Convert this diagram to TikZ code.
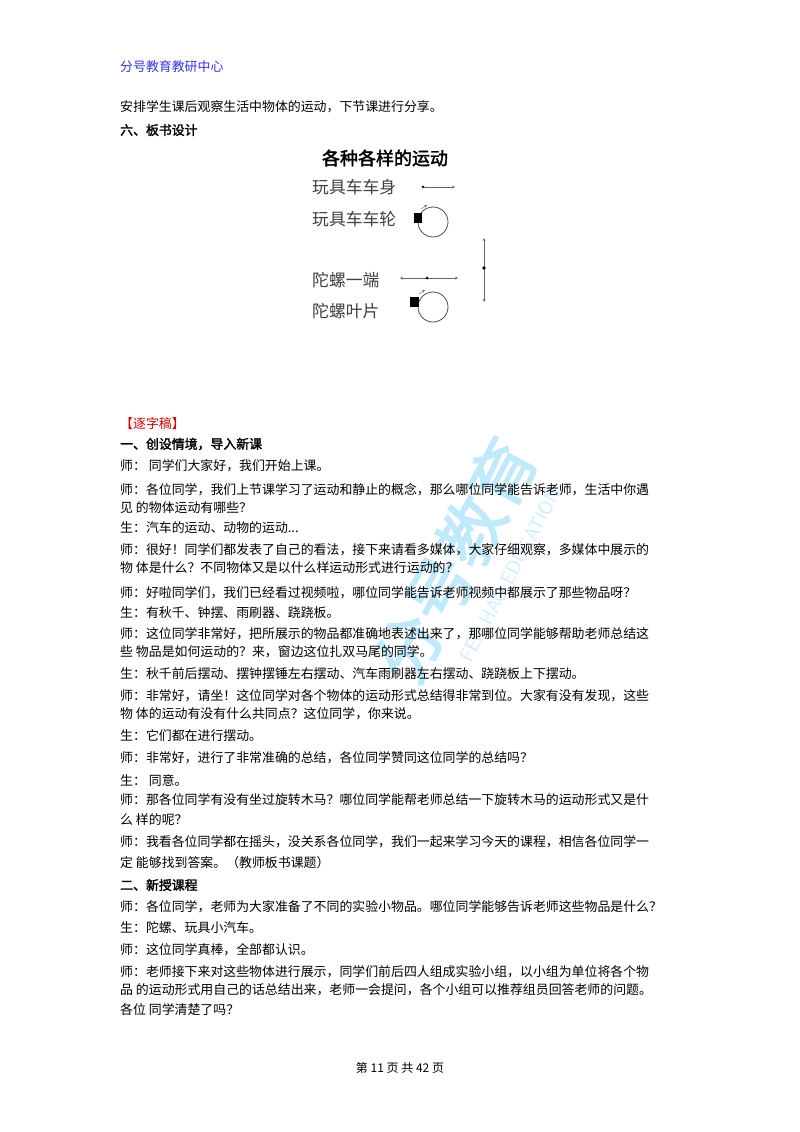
\documentclass[tikz,border=0pt]{standalone}
\usepackage{fontspec}
\setmainfont{Noto Sans CJK SC}
\newfontfamily\cjk{Noto Sans CJK SC}
\newfontfamily\cjkb[FakeBold=2]{Noto Sans CJK SC}
\begin{document}
\begin{tikzpicture}[x=1pt,y=-1pt,
 tl/.style={anchor=west,inner sep=0,font=\fontsize{12.9}{14}\selectfont\cjk},
 hb/.style={anchor=west,inner sep=0,font=\fontsize{12.9}{14}\selectfont\cjkb},
 dg/.style={anchor=west,inner sep=0,font=\fontsize{16.8}{18}\selectfont\cjk,text=black!75},
 ar/.style={->,>=stealth,thin,black!60}]
\useasboundingbox[fill=white] (0,0) rectangle (800,1132);
% watermark
\node[rotate=62,text=cyan!25,font=\fontsize{66}{66}\selectfont\cjkb] (wm) at (455,560) {分号教育};
\node[rotate=62,text=cyan!20,font=\fontsize{20}{20}\selectfont\sffamily] (wm2) at (510,575) {FEN HAO EDUCATION};
\node[tl,text=blue!80] (h) at (120,67) {分号教育教研中心};
\node[tl] (l0) at (120,107) {安排学生课后观察生活中物体的运动，下节课进行分享。};
\node[hb] (l1) at (120,130) {六、板书设计};
% board
\node[anchor=center,inner sep=0,font=\fontsize{18}{19}\selectfont\cjkb] (bt) at (385,158) {各种各样的运动};
\node[dg] (b1) at (312,187) {玩具车车身};
\node[dg] (b2) at (312,219) {玩具车车轮};
\node[dg] (b3) at (312,280) {陀螺一端};
\node[dg] (b4) at (312,311) {陀螺叶片};
\coordinate (d1) at (423,187); \coordinate (e1) at (455,187);
\fill (d1) circle (1.5); \draw[ar] (d1) -- (e1);
\draw[black!70,thick] (433,222) circle (15);
\fill (414,213) rectangle (422,223);
\draw[ar] (421,209) -- (427,205);
\coordinate (v1) at (484,238); \coordinate (v2) at (484,302); \coordinate (vm) at (484,268);
\draw[black!60,<->,>=stealth,thin] (v1) -- (v2); \fill (vm) circle (1.8);
\coordinate (d3) at (427,278); \coordinate (a3) at (400,278); \coordinate (c3) at (458,278);
\draw[ar] (d3) -- (a3); \draw[ar] (d3) -- (c3); \fill (d3) circle (1.5);
\draw[black!70,thick] (433,307) circle (15);
\fill (410,297) rectangle (419,307);
\draw[ar] (419,294) -- (425,290);
% text
\node[tl,text=red!85!black] (r) at (120,424) {【逐字稿】};
\node[hb] (s1) at (120,444) {一、创设情境，导入新课};
\foreach \y/\t in {466/{师：\ 同学们大家好，我们开始上课。},
490/{师：各位同学，我们上节课学习了运动和静止的概念，那么哪位同学能告诉老师，生活中你遇},
508/{见\ 的物体运动有哪些？},
528/{生：汽车的运动、动物的运动...},
550/{师：很好！同学们都发表了自己的看法，接下来请看多媒体，大家仔细观察，多媒体中展示的},
568/{物\ 体是什么？不同物体又是以什么样运动形式进行运动的？},
593/{师：好啦同学们，我们已经看过视频啦，哪位同学能告诉老师视频中都展示了那些物品呀？},
613/{生：有秋千、钟摆、雨刷器、跷跷板。},
634/{师：这位同学非常好，把所展示的物品都准确地表述出来了，那哪位同学能够帮助老师总结这},
652/{些\ 物品是如何运动的？来，窗边这位扎双马尾的同学。},
674/{生：秋千前后摆动、摆钟摆锤左右摆动、汽车雨刷器左右摆动、跷跷板上下摆动。},
696/{师：非常好，请坐！这位同学对各个物体的运动形式总结得非常到位。大家有没有发现，这些},
714/{物\ 体的运动有没有什么共同点？这位同学，你来说。},
736/{生：它们都在进行摆动。},
758/{师：非常好，进行了非常准确的总结，各位同学赞同这位同学的总结吗？},
781/{生：\ 同意。},
800/{师：那各位同学有没有坐过旋转木马？哪位同学能帮老师总结一下旋转木马的运动形式又是什},
820/{么\ 样的呢？},
842/{师：我看各位同学都在摇头，没关系各位同学，我们一起来学习今天的课程，相信各位同学一},
863/{定\ 能够找到答案。（教师板书课题）},
907/{师：各位同学，老师为大家准备了不同的实验小物品。哪位同学能够告诉老师这些物品是什么？},
928/{生：陀螺、玩具小汽车。},
950/{师：这位同学真棒，全部都认识。},
972/{师：老师接下来对这些物体进行展示，同学们前后四人组成实验小组，以小组为单位将各个物},
990/{品\ 的运动形式用自己的话总结出来，老师一会提问，各个小组可以推荐组员回答老师的问题。},
1010/{各位\ 同学清楚了吗？}}
 {\node[tl] at (120,\y) {\t};}
\node[hb] (s2) at (120,885) {二、新授课程};
\node[anchor=center,inner sep=0,font=\fontsize{12}{13}\selectfont\cjk] (ft) at (400,1068) {第 11 页 共 42 页};
\end{tikzpicture}
\end{document}
